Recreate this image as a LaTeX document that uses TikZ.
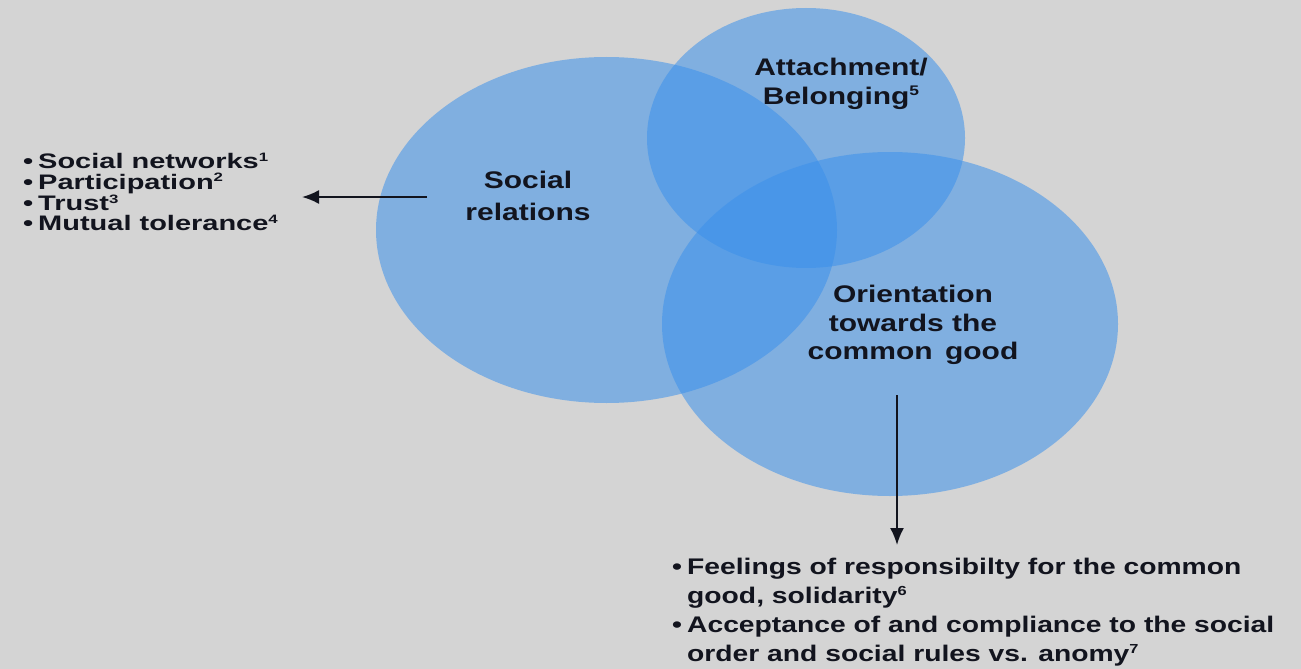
\documentclass[tikz,border=0pt]{standalone}
\usepackage{fontspec}
\usepackage{graphicx}
\setmainfont{Liberation Sans}[FakeStretch=1.25]
\newfontfamily\listfont{Liberation Sans}[FakeStretch=1.38]
\usetikzlibrary{shapes.geometric,arrows.meta}
\definecolor{paper}{RGB}{212,212,212}
\definecolor{bubbleblue}{RGB}{60,145,235}
\definecolor{ink}{RGB}{18,20,30}
\newcommand{\bul}{\makebox[15pt][l]{\textbullet}}
\newcommand{\cont}{\hspace*{15pt}}
\newcommand{\fn}[1]{\raisebox{0.36em}{\scalebox{0.58}{#1}}}
\begin{document}
\begin{tikzpicture}[x=1pt,y=-1pt,
    bubble/.style={ellipse,draw=none,fill=bubbleblue,fill opacity=0.55,inner sep=0pt},
    bubbletext/.style={text=ink,font=\bfseries\fontsize{24}{28.5}\selectfont,align=center,inner sep=0pt},
    items/.style={text=ink,align=left,inner sep=0pt,anchor=west},
    pointer/.style={-{Latex[length=17pt,width=14pt]},line width=1.9pt,draw=ink}]
    \fill[paper] (0,0) rectangle (1301,669);
    \useasboundingbox (0,0) rectangle (1301,669);
    % the three circles
    \node[bubble,minimum width=461pt,minimum height=346pt] (relBubble) at (606.5,230) {};
    \node[bubble,minimum width=318pt,minimum height=260pt] (attBubble) at (806,138) {};
    \node[bubble,minimum width=456pt,minimum height=344pt] (goodBubble) at (890,324) {};
    \node[bubbletext,font=\bfseries\fontsize{24}{32}\selectfont] (relText) at (528,196) {Social\\relations};
    \node[bubbletext] (attText) at (841,84) {Attachment/\\Belonging\fn{5}};
    \node[bubbletext] (goodText) at (913,325) {Orientation\\towards the\\common\ \,good};
    % the two lists
    \node[items,font=\listfont\bfseries\fontsize{21}{20.4}\selectfont] (relList) at (23,192)
        {\bul Social networks\fn{1}\\ \bul Participation\fn{2}\\ \bul Trust\fn{3}\\ \bul Mutual tolerance\fn{4}};
    \node[items,font=\bfseries\fontsize{22.6}{29}\selectfont] (goodList) at (672,612)
        {\bul Feelings of responsibilty for the common\\ \cont good, solidarity\fn{6}\\
         \bul Acceptance of and compliance to the social\\ \cont order and social rules vs. anomy\fn{7}};
    \coordinate (relFrom) at (427,197);
    \coordinate (relTo) at (302,197);
    \draw[pointer] (relFrom) -- (relTo);
    \coordinate (goodFrom) at (897,395);
    \coordinate (goodTo) at (897,545);
    \draw[pointer] (goodFrom) -- (goodTo);
\end{tikzpicture}
\end{document}
